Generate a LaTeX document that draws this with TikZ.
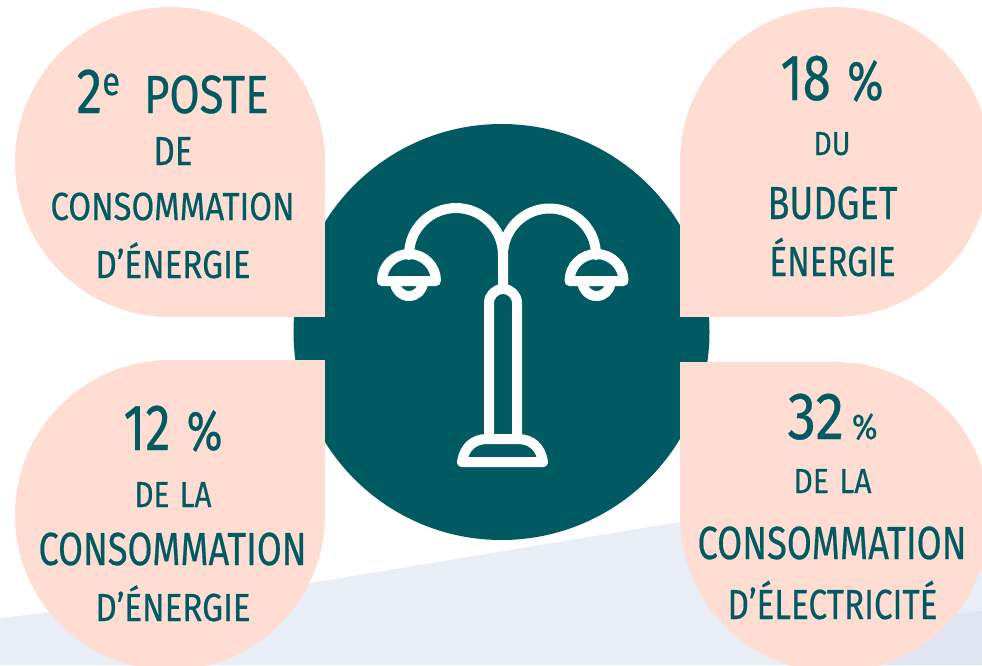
\documentclass[tikz,border=0pt]{standalone}
\usepackage{graphicx}
\usepackage{fontspec}
\setmainfont[FakeBold=0.5]{Fira Sans}
\definecolor{teal}{HTML}{005A62}
\definecolor{pinkbub}{HTML}{FFDDD3}
\definecolor{bandA}{HTML}{E8EDF6}
\definecolor{bandB}{HTML}{DFE4F0}
\tikzset{
  bubble/.style={fill=pinkbub,draw=none},
  lamp/.style={draw=white,line width=10pt,line join=round,line cap=round},
  label/.style={anchor=base,inner sep=0pt,outer sep=0pt,text=teal}
}
% name, centre x, baseline y, width, cap height, text
\newcommand\lineoftext[6]{%
  \pgfmathsetmacro\fsz{#5/0.689}%
  \pgfmathsetmacro\wid{#4+3}%
  \node[label] (#1) at (#2,#3) {\resizebox{\wid pt}{\height}{\fontsize{\fsz}{\fsz}\selectfont #6}};%
}
\newcommand\sized[2]{{\fontsize{#1}{#1}\selectfont #2}}
\begin{document}
\begin{tikzpicture}[x=1pt,y=-1pt]
\useasboundingbox (0,0) rectangle (982,665);
\clip (0,0) rectangle (982,665);
% background band
\fill[bandA] (0,618) .. controls (100,606) and (200,600) .. (310,583) -- (680,522) -- (982,500) -- (982,665) -- (0,665) -- cycle;
\fill[bandB] (850,665) -- (950,615) -- (982,611) -- (982,665) -- cycle;
% central disc with side tabs
\fill[teal] (501.5,332) circle (208);
% bubbles
\fill[bubble] (170,162) circle (155);
\fill[bubble] (170,162) rectangle (325,317);
\fill[bubble] (835,162) circle (155);
\fill[bubble] (680,162) rectangle (835,317);
\fill[bubble] (170,515) circle (155);
\fill[bubble] (170,360) rectangle (325,515);
\fill[bubble] (835,517) circle (155);
\fill[bubble] (680,362) rectangle (835,517);
% lamp: pole and base
\draw[lamp] (489,434) -- (489,303) arc[start angle=180,end angle=360,radius=14] -- (517,434);
\draw[lamp] (462,462) -- (543,462) .. controls (541,448) and (532,439) .. (518,439) -- (487,439) .. controls (473,439) and (464,448) .. (462,462) -- cycle;
% lamp: arms
\draw[lamp] (503,289) -- (503,255) arc[start angle=0,end angle=-180,radius=47];
\draw[lamp] (503,255) arc[start angle=180,end angle=360,radius=46.5];
% lamp: shades
\foreach \cx in {409,596.5}{
  \draw[lamp] (\cx-27,281) -- (\cx+27,281) arc[start angle=0,end angle=-180,radius=27] ;
  \draw[lamp,line cap=butt] (\cx+14,282) arc[start angle=0,end angle=180,radius=14];
}
% texts
\lineoftext{tlA}{172.5}{113}{189}{37}{\sized{64}{2}\raisebox{18pt}{\sized{40}{e}}\hspace{.55em}POSTE}
\lineoftext{tlB}{173}{165}{36}{28}{DE}
\lineoftext{tlC}{172.5}{220}{241}{27}{CONSOMMATION}
\lineoftext{tlD}{173}{278}{152}{27}{D'ÉNERGIE}
\lineoftext{trA}{832}{100}{100}{45}{18\hspace{.32em}\sized{56}{\%}}
\lineoftext{trB}{832}{155}{34}{23}{DU}
\lineoftext{trC}{832.5}{219}{127}{32}{BUDGET}
\lineoftext{trD}{832.5}{276}{123}{29}{ÉNERGIE}
\lineoftext{blA}{173}{450}{96}{45}{12\hspace{.32em}\sized{56}{\%}}
\lineoftext{blB}{173}{507}{74}{25}{DE\hspace{.35em}LA}
\lineoftext{blC}{172.5}{565}{265}{32}{CONSOMMATION}
\lineoftext{blD}{173}{621}{152}{27}{D'ÉNERGIE}
\lineoftext{brA}{832.5}{439}{87}{46}{32\hspace{.14em}\sized{36}{\%}}
\lineoftext{brB}{832.5}{493}{75}{24}{DE\hspace{.35em}LA}
\lineoftext{brC}{832}{559}{266}{32}{CONSOMMATION}
\lineoftext{brD}{832.5}{619}{207}{29}{D'ÉLECTRICITÉ}
\end{tikzpicture}
\end{document}
